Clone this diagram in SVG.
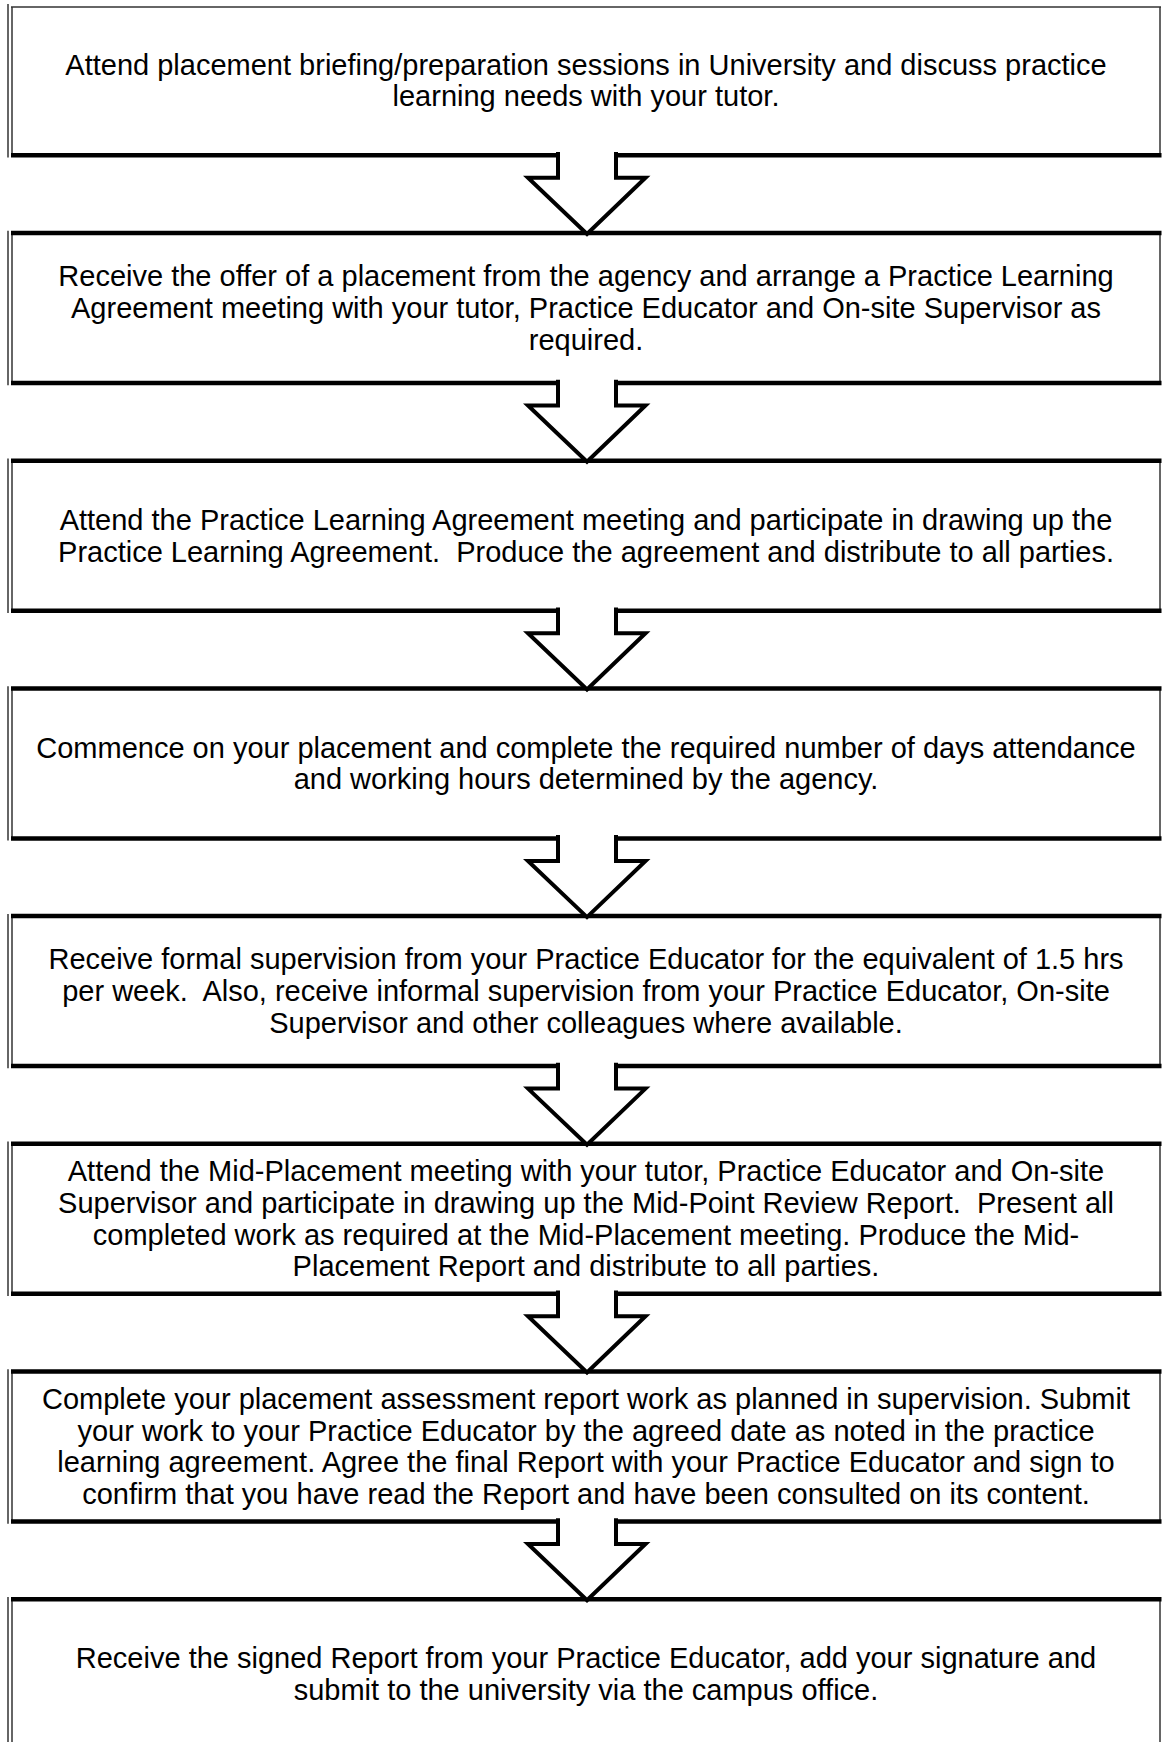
<svg xmlns="http://www.w3.org/2000/svg" width="1162" height="1742" viewBox="0 0 1162 1742">
<style>
.bg{fill:#fff}
.side{stroke:#333;stroke-width:1.5;fill:none}
.edge{stroke:#000;stroke-width:4.5;fill:none}
.thin{stroke:#333;stroke-width:1.5;fill:none}
text{font-family:"Liberation Sans",Arial,sans-serif;font-size:29px;fill:#000;text-anchor:middle;white-space:pre}
.arrow{fill:#fff;stroke:#000;stroke-width:4;stroke-linejoin:miter}
</style>
<rect class="bg" x="0" y="0" width="1162" height="1742"/>
<g id="node1">
<line class="side" x1="8" y1="4" x2="8" y2="157.5"/>
<line class="side" x1="12" y1="7" x2="12" y2="155.3"/>
<line class="side" x1="1160" y1="7" x2="1160" y2="155.3"/>
<line class="thin" x1="11" y1="7" x2="1161" y2="7"/>
<line class="edge" x1="11" y1="155.3" x2="1161.5" y2="155.3"/>
<text x="586" y="74.5">Attend placement briefing/preparation sessions in University and discuss practice</text>
<text x="586" y="106.2">learning needs with your tutor.</text>
</g>
<g id="node2">
<line class="side" x1="8" y1="230.8" x2="8" y2="385.2"/>
<line class="side" x1="12" y1="233" x2="12" y2="383"/>
<line class="side" x1="1160" y1="233" x2="1160" y2="383"/>
<line class="edge" x1="11" y1="233" x2="1161.5" y2="233"/>
<line class="edge" x1="11" y1="383" x2="1161.5" y2="383"/>
<text x="586" y="286.3">Receive the offer of a placement from the agency and arrange a Practice Learning</text>
<text x="586" y="318">Agreement meeting with your tutor, Practice Educator and On-site Supervisor as</text>
<text x="586" y="349.7">required.</text>
</g>
<g id="node3">
<line class="side" x1="8" y1="458.5" x2="8" y2="612.9"/>
<line class="side" x1="12" y1="460.7" x2="12" y2="610.7"/>
<line class="side" x1="1160" y1="460.7" x2="1160" y2="610.7"/>
<line class="edge" x1="11" y1="460.7" x2="1161.5" y2="460.7"/>
<line class="edge" x1="11" y1="610.7" x2="1161.5" y2="610.7"/>
<text x="586" y="529.9">Attend the Practice Learning Agreement meeting and participate in drawing up the</text>
<text x="586" y="561.6">Practice Learning Agreement.  Produce the agreement and distribute to all parties.</text>
</g>
<g id="node4">
<line class="side" x1="8" y1="686.2" x2="8" y2="840.6"/>
<line class="side" x1="12" y1="688.4" x2="12" y2="838.4"/>
<line class="side" x1="1160" y1="688.4" x2="1160" y2="838.4"/>
<line class="edge" x1="11" y1="688.4" x2="1161.5" y2="688.4"/>
<line class="edge" x1="11" y1="838.4" x2="1161.5" y2="838.4"/>
<text x="586" y="757.6">Commence on your placement and complete the required number of days attendance</text>
<text x="586" y="789.3">and working hours determined by the agency.</text>
</g>
<g id="node5">
<line class="side" x1="8" y1="913.9" x2="8" y2="1068.3"/>
<line class="side" x1="12" y1="916.1" x2="12" y2="1066.1"/>
<line class="side" x1="1160" y1="916.1" x2="1160" y2="1066.1"/>
<line class="edge" x1="11" y1="916.1" x2="1161.5" y2="916.1"/>
<line class="edge" x1="11" y1="1066.1" x2="1161.5" y2="1066.1"/>
<text x="586" y="969.4">Receive formal supervision from your Practice Educator for the equivalent of 1.5 hrs</text>
<text x="586" y="1001.1">per week.  Also, receive informal supervision from your Practice Educator, On-site</text>
<text x="586" y="1032.8">Supervisor and other colleagues where available.</text>
</g>
<g id="node6">
<line class="side" x1="8" y1="1141.6" x2="8" y2="1296"/>
<line class="side" x1="12" y1="1143.8" x2="12" y2="1293.8"/>
<line class="side" x1="1160" y1="1143.8" x2="1160" y2="1293.8"/>
<line class="edge" x1="11" y1="1143.8" x2="1161.5" y2="1143.8"/>
<line class="edge" x1="11" y1="1293.8" x2="1161.5" y2="1293.8"/>
<text x="586" y="1181.2">Attend the Mid-Placement meeting with your tutor, Practice Educator and On-site</text>
<text x="586" y="1212.9">Supervisor and participate in drawing up the Mid-Point Review Report.  Present all</text>
<text x="586" y="1244.6">completed work as required at the Mid-Placement meeting. Produce the Mid-</text>
<text x="586" y="1276.3">Placement Report and distribute to all parties.</text>
</g>
<g id="node7">
<line class="side" x1="8" y1="1369.3" x2="8" y2="1523.7"/>
<line class="side" x1="12" y1="1371.5" x2="12" y2="1521.5"/>
<line class="side" x1="1160" y1="1371.5" x2="1160" y2="1521.5"/>
<line class="edge" x1="11" y1="1371.5" x2="1161.5" y2="1371.5"/>
<line class="edge" x1="11" y1="1521.5" x2="1161.5" y2="1521.5"/>
<text x="586" y="1408.9">Complete your placement assessment report work as planned in supervision. Submit</text>
<text x="586" y="1440.6">your work to your Practice Educator by the agreed date as noted in the practice</text>
<text x="586" y="1472.3">learning agreement. Agree the final Report with your Practice Educator and sign to</text>
<text x="586" y="1504">confirm that you have read the Report and have been consulted on its content.</text>
</g>
<g id="node8">
<line class="side" x1="8" y1="1597" x2="8" y2="1751.4"/>
<line class="side" x1="12" y1="1599.2" x2="12" y2="1749.2"/>
<line class="side" x1="1160" y1="1599.2" x2="1160" y2="1749.2"/>
<line class="edge" x1="11" y1="1599.2" x2="1161.5" y2="1599.2"/>
<line class="edge" x1="11" y1="1749.2" x2="1161.5" y2="1749.2"/>
<text x="586" y="1668.3">Receive the signed Report from your Practice Educator, add your signature and</text>
<text x="586" y="1700">submit to the university via the campus office.</text>
</g>
<g id="connectors">
<path class="arrow" d="M558,152 V177.8 H528 L587,234 L645.5,177.8 H616 V152"/>
<path class="arrow" d="M558,379.7 V405.5 H528 L587,461.7 L645.5,405.5 H616 V379.7"/>
<path class="arrow" d="M558,607.4 V633.2 H528 L587,689.4 L645.5,633.2 H616 V607.4"/>
<path class="arrow" d="M558,835.1 V860.9 H528 L587,917.1 L645.5,860.9 H616 V835.1"/>
<path class="arrow" d="M558,1062.8 V1088.6 H528 L587,1144.8 L645.5,1088.6 H616 V1062.8"/>
<path class="arrow" d="M558,1290.5 V1316.3 H528 L587,1372.5 L645.5,1316.3 H616 V1290.5"/>
<path class="arrow" d="M558,1518.2 V1544 H528 L587,1600.2 L645.5,1544 H616 V1518.2"/>
</g>
</svg>
